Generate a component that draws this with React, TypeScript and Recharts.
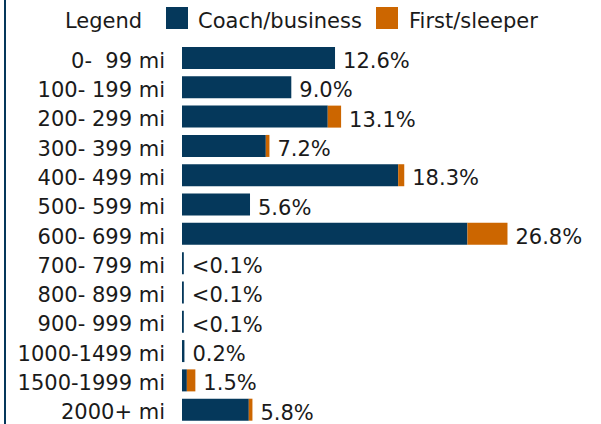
import React from "react";
import { BarChart, Bar, XAxis, YAxis, Legend, LabelList } from "recharts";

const categories = [
  "0-  99 mi",
  "100- 199 mi",
  "200- 299 mi",
  "300- 399 mi",
  "400- 499 mi",
  "500- 599 mi",
  "600- 699 mi",
  "700- 799 mi",
  "800- 899 mi",
  "900- 999 mi",
  "1000-1499 mi",
  "1500-1999 mi",
  "2000+ mi",
];
const coachBusiness = [12.6, 9.0, 12.0, 6.9, 17.8, 5.6, 23.5, 0.15, 0.15, 0.15, 0.2, 0.4, 5.5];
const firstSleeper = [0, 0, 1.1, 0.3, 0.5, 0, 3.3, 0, 0, 0, 0, 0.7, 0.3];
const valueLabels = ["12.6%", "9.0%", "13.1%", "7.2%", "18.3%", "5.6%", "26.8%", "<0.1%", "<0.1%", "<0.1%", "0.2%", "1.5%", "5.8%"];
const seriesNames = ["Coach/business", "First/sleeper"];

const NAVY = "#05385b";
const ORANGE = "#cc6600";
const FONT = "'DejaVu Sans', Verdana, sans-serif";
const FS = 21;

const data = categories.map((c, i) => ({
  category: c,
  coach: coachBusiness[i],
  first: firstSleeper[i],
  label: valueLabels[i],
}));

const CategoryTick = (props: any) => {
  const { x, y, payload } = props;
  return (
    <text
      x={x}
      y={y}
      dy={10}
      textAnchor="end"
      fontFamily={FONT}
      fontSize={FS}
      fill="#1a1a1a"
      xmlSpace="preserve"
      style={{ whiteSpace: "pre" }}
    >
      {payload.value}
    </text>
  );
};

// Label placed after the full stacked bar: coach bar geometry scaled to the stack total.
const ValueLabel = (props: any) => {
  const { x, y, width, height, index } = props;
  const c = coachBusiness[index];
  const f = firstSleeper[index];
  const end = Number(x) + (Number(width) * (c + f)) / c;
  return (
    <text
      x={end + 8}
      y={Number(y) + Number(height) / 2}
      dy={10}
      textAnchor="start"
      fontFamily={FONT}
      fontSize={FS}
      fill="#1a1a1a"
    >
      {valueLabels[index]}
    </text>
  );
};

const LegendContent = () => (
  <svg width={601} height={43} style={{ display: "block" }}>
    <text x={65} y={27.5} fontFamily={FONT} fontSize={FS} fill="#1a1a1a">
      Legend
    </text>
    <rect x={166} y={7} width={22} height={22} fill={NAVY} />
    <text x={198} y={27.5} fontFamily={FONT} fontSize={FS} fill="#1a1a1a">
      {seriesNames[0]}
    </text>
    <rect x={376} y={7} width={22} height={22} fill={ORANGE} />
    <text x={409} y={27.5} fontFamily={FONT} fontSize={FS} fill="#1a1a1a">
      {seriesNames[1]}
    </text>
  </svg>
);

export default function App() {
  return (
    <div style={{ position: "absolute", left: 0, top: 0, width: 601, height: 424, background: "#fff", overflow: "hidden" }}>
      <div style={{ position: "absolute", left: 4, top: 0, width: 2, height: 424, background: NAVY }} />
      <BarChart
        width={601}
        height={424}
        data={data}
        layout="vertical"
        margin={{ top: 0, right: 0, bottom: 0, left: 0 }}
        barSize={22}
      >
        <XAxis type="number" hide domain={[0, 34.5]} />
        <YAxis
          type="category"
          dataKey="category"
          width={182}
          axisLine={false}
          tickLine={false}
          tickSize={0}
          tickMargin={17}
          interval={0}
          tick={<CategoryTick />}
        />
        <Legend
          verticalAlign="top"
          align="left"
          wrapperStyle={{ left: 0, top: 0, width: 601, height: 43 }}
          content={<LegendContent />}
        />
        <Bar dataKey="coach" stackId="a" fill={NAVY} isAnimationActive={false} name={seriesNames[0]}>
          <LabelList dataKey="label" content={<ValueLabel />} />
        </Bar>
        <Bar dataKey="first" stackId="a" fill={ORANGE} isAnimationActive={false} name={seriesNames[1]} />
      </BarChart>
    </div>
  );
}
